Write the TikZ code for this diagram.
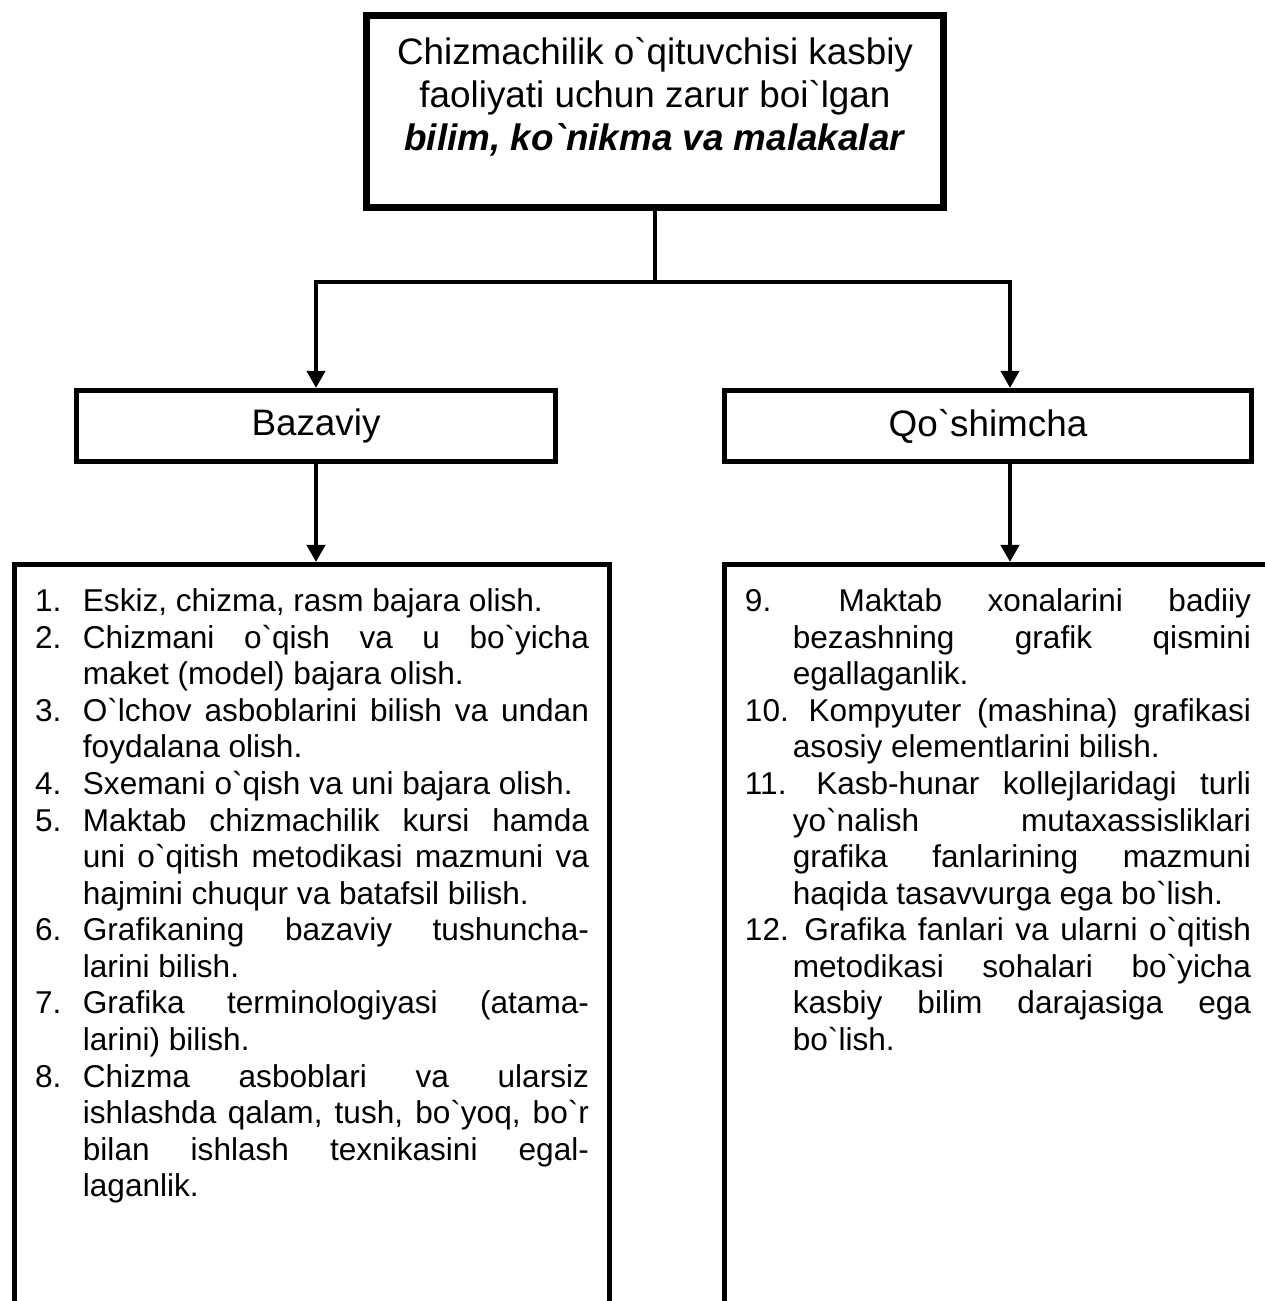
\documentclass[tikz,border=0pt]{standalone}
\usepackage{fontspec}
\setmainfont{Liberation Sans}[Ligatures=TeXOff]
\usepackage{tikz}
\usetikzlibrary{arrows.meta}
\setlength{\parskip}{0pt}
\hyphenpenalty=10000
\newlength{\bandw}
\setlength{\bandw}{18.2pt}
% numbered item with hanging indent
\newcommand{\bandno}[1]{\par\noindent\hangindent=\bandw\hangafter=1\relax\makebox[\bandw][l]{#1}}
\tikzset{
  headbox/.style={
    rectangle, draw, line width=2.66pt, inner sep=0pt,
    minimum width=219.3pt, minimum height=73pt, align=center,
    font=\fontsize{14}{16.3}\selectfont
  },
  catbox/.style={
    rectangle, draw, line width=1.9pt, inner sep=0pt,
    minimum height=27pt, font=\fontsize{14}{16.3}\selectfont
  },
  listbox/.style={
    rectangle, draw, line width=1.9pt, anchor=north,
    inner xsep=7.8pt, inner ysep=4pt, text depth=274pt, align=justify,
    font=\fontsize{12}{13.9}\selectfont
  },
  flowarrow/.style={-{Triangle[length=6.5pt,width=6.8pt]}, line width=1.7pt, line join=miter},
}
\begin{document}
\begin{tikzpicture}[x=0.38pt,y=-0.38pt]
  \useasboundingbox (0,0) rectangle (1265,1301);
  \clip (0,0) rectangle (1265,1301);

  \node[headbox, text depth=13.6pt] (top) at (655,111.5)
    {Chizmachilik o`qituvchisi kasbiy\\ faoliyati uchun zarur boi`lgan\\ \textbf{\textit{bilim, ko`nikma va malakalar}}};

  \node[catbox, minimum width=182pt] (baz) at (316,426) {Bazaviy};
  \node[catbox, minimum width=200.3pt] (qosh) at (988,426) {Qo`shimcha};

  \node[listbox, text width=210.5pt] (leftlist) at (312,562) {%
    \bandno{1.}Eskiz, chizma, rasm bajara olish.
    \bandno{2.}Chizmani o`qish va u bo`yicha\linebreak maket (model) bajara olish.
    \bandno{3.}O`lchov asboblarini bilish va undan\linebreak foydalana olish.
    \bandno{4.}Sxemani o`qish va uni bajara olish.
    \bandno{5.}Maktab chizmachilik kursi hamda\linebreak uni o`qitish metodikasi mazmuni va\linebreak hajmini chuqur va batafsil bilish.
    \bandno{6.}Grafikaning bazaviy tushuncha-\linebreak larini bilish.
    \bandno{7.}Grafika terminologiyasi (atama-\linebreak larini) bilish.
    \bandno{8.}Chizma asboblari va ularsiz\linebreak ishlashda qalam, tush, bo`yoq, bo`r\linebreak bilan ishlash texnikasini egal-\linebreak laganlik.\par};

  \node[listbox, text width=192.3pt] (rightlist) at (998,562) {%
    \bandno{9.} Maktab xonalarini badiiy\linebreak bezashning grafik qismini\linebreak egallaganlik.
    \bandno{10.} Kompyuter (mashina) grafikasi\linebreak asosiy elementlarini bilish.
    \bandno{11.} Kasb-hunar kollejlaridagi turli\linebreak yo`nalish mutaxassisliklari\linebreak grafika fanlarining mazmuni\linebreak haqida tasavvurga ega bo`lish.
    \bandno{12.} Grafika fanlari va ularni o`qitish\linebreak metodikasi sohalari bo`yicha\linebreak kasbiy bilim darajasiga ega\linebreak bo`lish.\par};

  \coordinate (hub) at (655,282);
  \coordinate (lfork) at (316,282);
  \coordinate (rfork) at (1010,282);

  \draw[flowarrow] (top.south) -- (hub) -| (lfork |- baz.north);
  \draw[flowarrow] (hub) -| (rfork |- qosh.north);
  \draw[flowarrow] (lfork |- baz.south) -- (lfork |- leftlist.north);
  \draw[flowarrow] (rfork |- qosh.south) -- (rfork |- rightlist.north);
\end{tikzpicture}
\end{document}
